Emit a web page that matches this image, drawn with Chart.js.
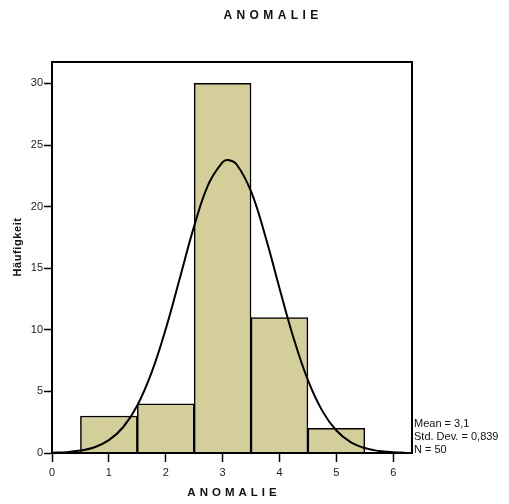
<!DOCTYPE html>
<html>
<head>
<meta charset="utf-8">
<script src="https://cdn.jsdelivr.net/npm/chart.js@4"></script>
<style>
  body { margin: 0; background: #fff; }
</style>
</head>
<body>
<canvas id="chart" width="509" height="504"></canvas>
<script>
// histogram bins (bin centers) and counts
const binCenters = [1, 2, 3, 4, 5];
const counts = [3, 4, 30, 11, 2];

// normal curve
const curveX = [0, 0.25, 0.5, 0.75, 1, 1.25, 1.5, 1.75, 2, 2.25, 2.5, 2.75, 3, 3.1, 3.25, 3.5, 3.75, 4, 4.25, 4.5, 4.75, 5, 5.25, 5.5, 5.75, 6, 6.2];
const curveY = [0.03, 0.07, 0.2, 0.47, 1.04, 2.09, 3.86, 6.52, 10.07, 14.23, 18.42, 21.8, 23.61, 23.78, 23.4, 21.23, 17.62, 13.38, 9.3, 5.91, 3.44, 1.83, 0.89, 0.4, 0.16, 0.06, 0.03];

const xTicks = [0, 1, 2, 3, 4, 5, 6];
const yTicks = [0, 5, 10, 15, 20, 25, 30];

const statLines = ["Mean = 3,1", "Std. Dev. = 0,839", "N = 50"];
const chartTitle = "ANOMALIE";
const xTitle = "ANOMALIE";
const yTitle = "Häufigkeit";

const FONT = "Arial, 'Liberation Sans', sans-serif";

const textPlugin = {
    id: "texts",
    afterDraw(chart) {
        const ctx = chart.ctx;
        const area = chart.chartArea;
        ctx.save();

        // frame around plot
        ctx.strokeStyle = "#000";
        ctx.lineWidth = 2;
        ctx.strokeRect(area.left, area.top, area.right - area.left, area.bottom - area.top);

        ctx.fillStyle = "#111";
        ctx.textBaseline = "middle";

        ctx.font = "bold 12px " + FONT;
        ctx.letterSpacing = "4.4px";
        ctx.textAlign = "center";
        ctx.fillText(chartTitle, 273, 16);

        ctx.font = "bold 11.5px " + FONT;
        ctx.letterSpacing = "4px";
        ctx.fillText(xTitle, 234, 493);

        ctx.font = "bold 11px " + FONT;
        ctx.letterSpacing = "0.6px";
        ctx.translate(18, 247);
        ctx.rotate(-Math.PI / 2);
        ctx.fillText(yTitle, 0, 0);
        ctx.setTransform(1, 0, 0, 1, 0, 0);

        ctx.font = "11px " + FONT;
        ctx.letterSpacing = "0px";
        ctx.textAlign = "left";
        statLines.forEach((s, i) => {
            ctx.fillText(s, area.right + 2, 424 + i * 13);
        });
        ctx.restore();
    }
};

new Chart(document.getElementById("chart"), {
    type: "bar",
    data: {
        datasets: [
            {
                type: "line",
                data: curveX.map((x, i) => ({ x: x, y: curveY[i] })),
                borderColor: "#000",
                borderWidth: 2,
                pointRadius: 0,
                tension: 0.4,
                fill: false,
                order: 0
            },
            {
                type: "bar",
                data: binCenters.map((x, i) => ({ x: x, y: counts[i] })),
                backgroundColor: "#d3ce9a",
                borderColor: "#000",
                borderWidth: 1.5,
                barPercentage: 1,
                categoryPercentage: 1,
                order: 1
            }
        ]
    },
    options: {
        responsive: false,
        animation: false,
        layout: { padding: { left: 0, top: 62, right: 97, bottom: 21 } },
        plugins: {
            legend: { display: false },
            tooltip: { enabled: false }
        },
        scales: {
            x: {
                type: "linear",
                min: 0,
                max: 6.33,
                offset: false,
                afterBuildTicks: (scale) => { scale.ticks = xTicks.map(v => ({ value: v })); },
                afterFit: (scale) => { scale.height = 30; },
                grid: { offset: false, drawOnChartArea: false, tickLength: 9, tickColor: "#000", tickWidth: 1.5 },
                border: { display: true, color: "#000", width: 2 },
                ticks: { color: "#222", font: { family: FONT, size: 11 }, padding: 4, maxRotation: 0 }
            },
            y: {
                min: 0,
                max: 31.74,
                afterBuildTicks: (scale) => { scale.ticks = yTicks.map(v => ({ value: v })); },
                afterFit: (scale) => { scale.width = 52; },
                grid: { drawOnChartArea: false, tickLength: 8, tickColor: "#000", tickWidth: 1.5 },
                border: { display: true, color: "#000", width: 2 },
                ticks: { color: "#222", font: { family: FONT, size: 11 }, padding: 1 }
            }
        }
    },
    plugins: [textPlugin]
});
</script>
</body>
</html>
